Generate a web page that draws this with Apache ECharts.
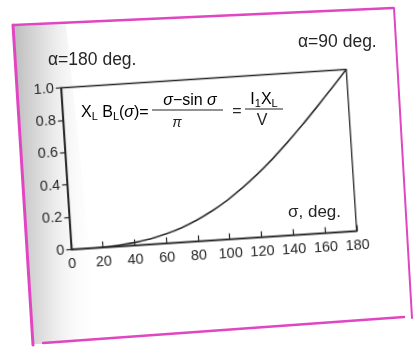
<!DOCTYPE html>
<html>
<head>
<meta charset="utf-8">
<script src="https://cdn.jsdelivr.net/npm/echarts@6/dist/echarts.min.js"></script>
<style>
  html, body { margin: 0; padding: 0; background: #fff; }
  #wrap { position: relative; width: 418px; height: 347px; overflow: hidden; }
  #page, #plot { position: absolute; left: 0; top: 0; width: 418px; height: 347px; }
  /* the printed figure sits slightly tilted on the scanned page */
  #plot { transform: rotate(-3.7deg); transform-origin: 208.75px 159.5px; }
</style>
</head>
<body>
<div id="wrap">
  <div id="page"></div>
  <div id="plot"></div>
</div>
<script>
// conduction angle sigma (degrees) and the normalized value X_L·B_L(sigma)
const sigma = [0, 10, 20, 30, 40, 50, 60, 70, 80, 90, 100, 110, 120, 130, 140, 150, 160, 170, 180];
const xlBl  = [0, 0, 0.002, 0.008, 0.018, 0.034, 0.058, 0.090, 0.131, 0.182, 0.242, 0.312, 0.391, 0.478, 0.573, 0.674, 0.780, 0.889, 1.0];

// axis ranges
const xRange = [0, 180, 20];
const yRange = [0, 1, 0.2];

const FONT = '"Liberation Sans", Arial, Helvetica, sans-serif';
const INK = '#262626';
const PINK = '#e046c2';

/* ---------- page layer: paper, binding shadow, pink frame, annotations ---------- */
const page = echarts.init(document.getElementById('page'), null, { renderer: 'canvas' });

function seg(x1, y1, x2, y2, w) {
  return { type: 'line', shape: { x1, y1, x2, y2 },
           style: { stroke: PINK, lineWidth: w, lineCap: 'round' }, silent: true };
}
function txt(x, y, text, opts) {
  return { type: 'text', x, y, silent: true,
           style: Object.assign({ text, fill: INK, font: '16px ' + FONT,
                                  align: 'left', verticalAlign: 'middle' }, opts || {}) };
}

const subRich = {
  a: { fontSize: 16, fontFamily: FONT, color: INK, lineHeight: 19 },
  i: { fontSize: 16, fontFamily: FONT, color: INK, lineHeight: 19, fontStyle: 'italic' },
  s: { fontSize: 11, fontFamily: FONT, color: INK, lineHeight: 11, verticalAlign: 'bottom' }
};

page.setOption({
  backgroundColor: '#ffffff',
  graphic: [
    // grey shadow along the bound edge
    { type: 'polygon', silent: true,
      shape: { points: [[14, 26], [66, 24], [100, 343], [34, 344]] },
      style: { fill: new echarts.graphic.LinearGradient(0, 0, 1, 0, [
        { offset: 0, color: 'rgba(160,160,160,0.7)' },
        { offset: 0.3, color: 'rgba(190,190,190,0.55)' },
        { offset: 0.6, color: 'rgba(225,225,225,0.35)' },
        { offset: 1, color: 'rgba(255,255,255,0)' }
      ]) } },
    // pink frame
    seg(14, 25, 393, 8, 2.5),
    seg(394, 8, 412, 318, 2),
    seg(43, 343, 404, 317, 2.5),
    seg(13, 25, 33, 345, 3),

    // angle annotations
    txt(48, 60, 'α=180 deg.', { font: '17.5px ' + FONT }),
    txt(298, 42, 'α=90 deg.', { font: '17.5px ' + FONT }),
    // axis caption
    txt(288, 212, 'σ, deg.', { font: '17px ' + FONT }),

    // X_L B_L(σ) = (σ − sin σ)/π = I1 X_L / V
    { type: 'text', x: 81, y: 113, silent: true,
      style: { text: '{a|X}{s|L}{a| B}{s|L}{a|(}{i|σ}{a|)=}', rich: subRich,
               align: 'left', verticalAlign: 'middle' } },
    { type: 'text', x: 190, y: 101, silent: true,
      style: { text: '{i|σ}{a|−sin }{i|σ}', rich: subRich, align: 'center', verticalAlign: 'middle' } },
    { type: 'line', silent: true, shape: { x1: 152, y1: 110, x2: 223, y2: 110 },
      style: { stroke: INK, lineWidth: 1.1 } },
    txt(177, 123, 'π', { font: 'italic 14px ' + FONT, align: 'center' }),
    txt(237, 112, '=', { font: '16px ' + FONT, align: 'center' }),
    { type: 'text', x: 264, y: 100, silent: true,
      style: { text: '{a|I}{s|1}{a|X}{s|L}', rich: subRich, align: 'center', verticalAlign: 'middle' } },
    { type: 'line', silent: true, shape: { x1: 245, y1: 109, x2: 283, y2: 109 },
      style: { stroke: INK, lineWidth: 1.1 } },
    txt(262, 121, 'V', { font: '16px ' + FONT, align: 'center' })
  ]
});

/* ---------- plot layer: axes, frame and the curve ---------- */
const plot = echarts.init(document.getElementById('plot'), null, { renderer: 'canvas' });

const axisLine = { show: true, lineStyle: { color: INK, width: 1.3 } };
const labelStyle = { color: INK, fontSize: 14.5, fontFamily: FONT };

plot.setOption({
  backgroundColor: 'transparent',
  animation: false,
  grid: { left: 65.75, top: 78.5, width: 286, height: 162,
          show: true, borderColor: INK, borderWidth: 1.3, backgroundColor: 'transparent' },
  xAxis: {
    type: 'value', min: xRange[0], max: xRange[1], interval: xRange[2],
    axisLine,
    axisTick: { show: true, inside: true, length: 6, lineStyle: { color: INK, width: 1.2 } },
    axisLabel: Object.assign({ margin: 7, showMinLabel: true, showMaxLabel: true }, labelStyle),
    splitLine: { show: false }
  },
  yAxis: {
    type: 'value', min: yRange[0], max: yRange[1], interval: yRange[2],
    axisLine,
    axisTick: { show: true, inside: false, length: 5, lineStyle: { color: INK, width: 1.2 } },
    axisLabel: Object.assign({ margin: 7,
      formatter: v => (v === 0 ? '0' : v.toFixed(1)) }, labelStyle),
    splitLine: { show: false }
  },
  series: [{
    type: 'line',
    data: sigma.map((s, i) => [s, xlBl[i]]),
    showSymbol: false,
    smooth: 0.3,
    lineStyle: { color: '#2a2a2a', width: 1.6 }
  }]
});
</script>
</body>
</html>
